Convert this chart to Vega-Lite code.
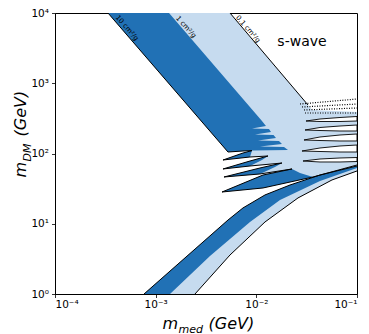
{
  "$schema": "https://vega.github.io/schema/vega-lite/v6.json",
  "width": 302,
  "height": 281,
  "autosize": "none",
  "padding": {"left": 55, "top": 13, "right": 12, "bottom": 40},
  "background": "white",
  "config": {
    "view": {"stroke": "black", "strokeWidth": 1},
    "axis": {"grid": false, "domainColor": "black", "tickColor": "black", "labelColor": "black", "labelFont": "DejaVu Sans", "labelFontSize": 10.5, "tickSize": 3.5, "tickWidth": 0.8, "titleFont": "DejaVu Sans", "titleFontStyle": "italic", "titleFontWeight": "normal", "titleColor": "black", "titleFontSize": 16}
  },
  "datasets": {
    "light": [
      {"p":"L1","i":0,"x":3.361e-4,"y":10000},{"p":"L1","i":1,"x":5.475e-3,"y":10000},{"p":"L1","i":2,"x":3.26e-2,"y":490.3},{"p":"L1","i":3,"x":3.572e-2,"y":416.1},{"p":"L1","i":4,"x":0.1,"y":389.7},{"p":"L1","i":5,"x":0.1,"y":68.6},{"p":"L1","i":6,"x":3.655e-2,"y":46.3},{"p":"L1","i":7,"x":1.165e-2,"y":32.3},{"p":"L1","i":8,"x":4.56e-3,"y":28.3},{"p":"L1","i":9,"x":1.165e-2,"y":49.4},{"p":"L1","i":10,"x":2.261e-2,"y":60.2},{"p":"L1","i":11,"x":1.087e-2,"y":51.1},{"p":"L1","i":12,"x":4.773e-3,"y":46.3},{"p":"L1","i":13,"x":1.087e-2,"y":62.2},{"p":"L1","i":14,"x":1.798e-2,"y":73.2},{"p":"L1","i":15,"x":8.65e-3,"y":66.4},{"p":"L1","i":16,"x":4.665e-3,"y":60.2},{"p":"L1","i":17,"x":8.65e-3,"y":78.2},{"p":"L1","i":18,"x":1.306e-2,"y":92.1},{"p":"L1","i":19,"x":8.65e-3,"y":89.2},{"p":"L1","i":20,"x":4.665e-3,"y":80.8},{"p":"L1","i":21,"x":7.37e-3,"y":101.6},{"p":"L1","i":22,"x":9.056e-3,"y":110.0},{"p":"L1","i":23,"x":7.37e-3,"y":108.5},{"p":"L1","i":24,"x":5.23e-3,"y":105.0},
      {"p":"L6","i":0,"x":7.66e-4,"y":1},{"p":"L6","i":1,"x":2.458e-3,"y":1},{"p":"L6","i":2,"x":5.475e-3,"y":3.59},{"p":"L6","i":3,"x":1.219e-2,"y":10.6},{"p":"L6","i":4,"x":2.593e-2,"y":23.3},{"p":"L6","i":5,"x":5.644e-2,"y":42.0},{"p":"L6","i":6,"x":0.1,"y":56.4},{"p":"L6","i":7,"x":0.1,"y":66.4},{"p":"L6","i":8,"x":4.29e-2,"y":49.4},{"p":"L6","i":9,"x":2.16e-2,"y":35.6},{"p":"L6","i":10,"x":1.219e-2,"y":25.7},{"p":"L6","i":11,"x":7.37e-3,"y":16.8},{"p":"L6","i":12,"x":5.23e-3,"y":11.3}
    ],
    "dark": [
      {"p":"D1","i":0,"x":3.361e-4,"y":10000},{"p":"D1","i":1,"x":1.357e-3,"y":10000},{"p":"D1","i":2,"x":1.138e-2,"y":290.1},{"p":"D1","i":3,"x":1.247e-2,"y":246.2},{"p":"D1","i":4,"x":9.056e-3,"y":226.9},{"p":"D1","i":5,"x":1.336e-2,"y":223.3},{"p":"D1","i":6,"x":1.398e-2,"y":202.3},{"p":"D1","i":7,"x":9.698e-3,"y":186.4},{"p":"D1","i":8,"x":1.481e-2,"y":183.3},{"p":"D1","i":9,"x":1.568e-2,"y":166.2},{"p":"D1","i":10,"x":1.039e-2,"y":153.1},{"p":"D1","i":11,"x":1.679e-2,"y":150.7},{"p":"D1","i":12,"x":1.798e-2,"y":136.5},{"p":"D1","i":13,"x":1.087e-2,"y":125.8},{"p":"D1","i":14,"x":1.883e-2,"y":123.7},{"p":"D1","i":15,"x":2.063e-2,"y":112.1},{"p":"D1","i":16,"x":9.056e-3,"y":110.0},{"p":"D1","i":17,"x":7.37e-3,"y":108.5},{"p":"D1","i":18,"x":5.23e-3,"y":105.0},
      {"p":"D2","i":0,"x":4.665e-3,"y":80.8},{"p":"D2","i":1,"x":7.37e-3,"y":101.6},{"p":"D2","i":2,"x":9.056e-3,"y":110.0},{"p":"D2","i":3,"x":8.65e-3,"y":89.2},
      {"p":"D3","i":0,"x":4.665e-3,"y":60.2},{"p":"D3","i":1,"x":8.65e-3,"y":78.2},{"p":"D3","i":2,"x":1.306e-2,"y":92.1},{"p":"D3","i":3,"x":1.138e-2,"y":80.8},{"p":"D3","i":4,"x":8.65e-3,"y":66.4},
      {"p":"D4","i":0,"x":4.773e-3,"y":46.3},{"p":"D4","i":1,"x":1.087e-2,"y":62.2},{"p":"D4","i":2,"x":1.798e-2,"y":73.2},{"p":"D4","i":3,"x":1.532e-2,"y":64.2},{"p":"D4","i":4,"x":1.087e-2,"y":51.1},
      {"p":"D5","i":0,"x":4.56e-3,"y":28.3},{"p":"D5","i":1,"x":1.165e-2,"y":49.4},{"p":"D5","i":2,"x":2.261e-2,"y":60.2},{"p":"D5","i":3,"x":2.715e-2,"y":52.8},{"p":"D5","i":4,"x":3.655e-2,"y":46.3},{"p":"D5","i":5,"x":1.165e-2,"y":32.3},
      {"p":"D6","i":0,"x":7.66e-4,"y":1},{"p":"D6","i":1,"x":1.388e-3,"y":1},{"p":"D6","i":2,"x":3.465e-3,"y":3.47},{"p":"D6","i":3,"x":8.65e-3,"y":10.6},{"p":"D6","i":4,"x":1.718e-2,"y":21.8},{"p":"D6","i":5,"x":4.29e-2,"y":40.6},{"p":"D6","i":6,"x":0.1,"y":62.2},{"p":"D6","i":7,"x":0.1,"y":66.4},{"p":"D6","i":8,"x":4.29e-2,"y":49.4},{"p":"D6","i":9,"x":2.16e-2,"y":35.6},{"p":"D6","i":10,"x":1.219e-2,"y":25.7},{"p":"D6","i":11,"x":7.37e-3,"y":16.8},{"p":"D6","i":12,"x":5.23e-3,"y":11.3}
    ],
    "gaps": [
      {"p":"W1","i":0,"x":3.114e-2,"y":290.1},{"p":"W1","i":1,"x":4.29e-2,"y":309.8},{"p":"W1","i":2,"x":6.776e-2,"y":325.5},{"p":"W1","i":3,"x":0.1,"y":336.3},{"p":"W1","i":4,"x":0.1,"y":290.1},{"p":"W1","i":5,"x":6.776e-2,"y":285.4},{"p":"W1","i":6,"x":4.29e-2,"y":285.4},{"p":"W1","i":7,"x":3.114e-2,"y":290.1},
      {"p":"W2","i":0,"x":3.044e-2,"y":216.0},{"p":"W2","i":1,"x":4.29e-2,"y":234.5},{"p":"W2","i":2,"x":6.776e-2,"y":246.2},{"p":"W2","i":3,"x":0.1,"y":254.5},{"p":"W2","i":4,"x":0.1,"y":209.0},{"p":"W2","i":5,"x":6.776e-2,"y":209.0},{"p":"W2","i":6,"x":4.29e-2,"y":212.5},{"p":"W2","i":7,"x":3.044e-2,"y":216.0},
      {"p":"W3","i":0,"x":2.975e-2,"y":155.7},{"p":"W3","i":1,"x":4.29e-2,"y":171.8},{"p":"W3","i":2,"x":6.776e-2,"y":183.3},{"p":"W3","i":3,"x":0.1,"y":189.5},{"p":"W3","i":4,"x":0.1,"y":150.7},{"p":"W3","i":5,"x":6.776e-2,"y":150.7},{"p":"W3","i":6,"x":4.29e-2,"y":153.1},{"p":"W3","i":7,"x":2.975e-2,"y":155.7},
      {"p":"W4","i":0,"x":2.842e-2,"y":108.5},{"p":"W4","i":1,"x":4.29e-2,"y":119.8},{"p":"W4","i":2,"x":6.776e-2,"y":127.9},{"p":"W4","i":3,"x":0.1,"y":132.1},{"p":"W4","i":4,"x":0.1,"y":105.0},{"p":"W4","i":5,"x":6.776e-2,"y":105.0},{"p":"W4","i":6,"x":4.29e-2,"y":106.8},{"p":"W4","i":7,"x":2.842e-2,"y":108.5},
      {"p":"W5","i":0,"x":2.907e-2,"y":78.2},{"p":"W5","i":1,"x":4.29e-2,"y":83.5},{"p":"W5","i":2,"x":6.776e-2,"y":86.3},{"p":"W5","i":3,"x":0.1,"y":87.7},{"p":"W5","i":4,"x":0.1,"y":76.9},{"p":"W5","i":5,"x":6.776e-2,"y":75.7},{"p":"W5","i":6,"x":4.29e-2,"y":75.7},{"p":"W5","i":7,"x":2.907e-2,"y":78.2}
    ],
    "edges": [
      {"p":"K1","i":0,"x":3.361e-4,"y":10000},{"p":"K1","i":1,"x":5.23e-3,"y":105.0},{"p":"K1","i":2,"x":7.37e-3,"y":108.5},{"p":"K1","i":3,"x":9.056e-3,"y":110.0},
      {"p":"K2","i":0,"x":5.475e-3,"y":10000},{"p":"K2","i":1,"x":3.26e-2,"y":490.3},
      {"p":"K3","i":0,"x":0.1,"y":68.6},{"p":"K3","i":1,"x":3.655e-2,"y":46.3},{"p":"K3","i":2,"x":1.165e-2,"y":32.3},{"p":"K3","i":3,"x":4.56e-3,"y":28.3},{"p":"K3","i":4,"x":1.165e-2,"y":49.4},{"p":"K3","i":5,"x":2.261e-2,"y":60.2},{"p":"K3","i":6,"x":1.087e-2,"y":51.1},{"p":"K3","i":7,"x":4.773e-3,"y":46.3},{"p":"K3","i":8,"x":1.087e-2,"y":62.2},{"p":"K3","i":9,"x":1.798e-2,"y":73.2},{"p":"K3","i":10,"x":8.65e-3,"y":66.4},{"p":"K3","i":11,"x":4.665e-3,"y":60.2},{"p":"K3","i":12,"x":8.65e-3,"y":78.2},{"p":"K3","i":13,"x":1.306e-2,"y":92.1},{"p":"K3","i":14,"x":8.65e-3,"y":89.2},{"p":"K3","i":15,"x":4.665e-3,"y":80.8},{"p":"K3","i":16,"x":7.37e-3,"y":101.6},{"p":"K3","i":17,"x":9.056e-3,"y":110.0},
      {"p":"K7","i":0,"x":7.66e-4,"y":1},{"p":"K7","i":1,"x":5.23e-3,"y":11.3},{"p":"K7","i":2,"x":7.37e-3,"y":16.8},{"p":"K7","i":3,"x":1.219e-2,"y":25.7},{"p":"K7","i":4,"x":2.16e-2,"y":35.6},{"p":"K7","i":5,"x":4.29e-2,"y":49.4},{"p":"K7","i":6,"x":0.1,"y":66.4},
      {"p":"K8","i":0,"x":2.458e-3,"y":1},{"p":"K8","i":1,"x":5.475e-3,"y":3.59},{"p":"K8","i":2,"x":1.219e-2,"y":10.6},{"p":"K8","i":3,"x":2.593e-2,"y":23.3},{"p":"K8","i":4,"x":5.644e-2,"y":42.0},{"p":"K8","i":5,"x":0.1,"y":56.4}
    ],
    "dots": [
      {"p":"Q1","i":0,"x":2.715e-2,"y":506.5},{"p":"Q1","i":1,"x":0.1,"y":596.7},
      {"p":"Q2","i":0,"x":2.842e-2,"y":459.1},{"p":"Q2","i":1,"x":0.1,"y":506.5},
      {"p":"Q3","i":0,"x":2.975e-2,"y":416.1},{"p":"Q3","i":1,"x":0.1,"y":444.3},
      {"p":"Q4","i":0,"x":3.044e-2,"y":377.1},{"p":"Q4","i":1,"x":0.1,"y":377.1}
    ],
    "contours": [
      {"t":"10 cm²/g","x":5.19e-4,"y":6115},
      {"t":"1 cm²/g","x":2.0e-3,"y":6320},
      {"t":"0.1 cm²/g","x":8.26e-3,"y":5918}
    ],
    "note": [
      {"t":"s-wave","x":2.842e-2,"y":3866}
    ]
  },
  "resolve": {"axis": {"x": "independent", "y": "independent"}},
  "layer": [
    {
      "data": {"name": "light"},
      "mark": {"type": "line", "filled": true, "color": "#c6dbef", "clip": true},
      "encoding": {
        "x": {"field": "x", "type": "quantitative", "scale": {"type": "log", "domain": [0.0001, 0.1], "nice": false},
              "axis": {"values": [0.0001, 0.001, 0.01, 0.1], "labelExpr": "datum.value < 0.0005 ? '10⁻⁴' : datum.value < 0.005 ? '10⁻³' : datum.value < 0.05 ? '10⁻²' : '10⁻¹'", "labelPadding": 2, "title": "m\u00a0\u00a0\u00a0\u00a0\u00a0\u00a0(GeV)", "titleAlign": "left", "titleBaseline": "alphabetic", "titleX": 107, "titleY": 34, "titleAngle": 0}},
        "y": {"field": "y", "type": "quantitative", "scale": {"type": "log", "domain": [1, 10000], "nice": false},
              "axis": {"values": [1, 10, 100, 1000, 10000], "labelExpr": "datum.value < 5 ? '10⁰' : datum.value < 50 ? '10¹' : datum.value < 500 ? '10²' : datum.value < 5000 ? '10³' : '10⁴'", "labelPadding": 3, "title": "m\u00a0\u00a0\u00a0\u00a0\u00a0(GeV)", "titleAlign": "left", "titleBaseline": "alphabetic", "titleX": -30, "titleY": 164, "titleAngle": 270}},
        "detail": {"field": "p"},
        "order": {"field": "i", "type": "quantitative"}
      }
    },
    {
      "data": {"name": "dark"},
      "mark": {"type": "line", "filled": true, "color": "#2171b5", "clip": true},
      "encoding": {
        "x": {"field": "x", "type": "quantitative", "scale": {"type": "log", "domain": [0.0001, 0.1], "nice": false},
              "axis": {"orient": "top", "domain": false, "ticks": false, "labels": false, "title": "med", "titleFontSize": 11, "titleAlign": "left", "titleBaseline": "alphabetic", "titleX": 123, "titleY": 319, "titleAngle": 0}},
        "y": {"field": "y", "type": "quantitative", "scale": {"type": "log", "domain": [1, 10000], "nice": false},
              "axis": {"orient": "right", "domain": false, "ticks": false, "labels": false, "title": "DM", "titleFontSize": 11, "titleAlign": "left", "titleBaseline": "alphabetic", "titleX": -327, "titleY": 148, "titleAngle": 270}},
        "detail": {"field": "p"},
        "order": {"field": "i", "type": "quantitative"}
      }
    },
    {
      "data": {"name": "gaps"},
      "mark": {"type": "line", "fill": "white", "stroke": "black", "strokeWidth": 0.9, "strokeJoin": "round", "clip": true},
      "encoding": {
        "x": {"field": "x", "type": "quantitative", "scale": {"type": "log", "domain": [0.0001, 0.1], "nice": false}, "axis": null},
        "y": {"field": "y", "type": "quantitative", "scale": {"type": "log", "domain": [1, 10000], "nice": false}, "axis": null},
        "detail": {"field": "p"},
        "order": {"field": "i", "type": "quantitative"}
      }
    },
    {
      "data": {"name": "edges"},
      "mark": {"type": "line", "color": "black", "strokeWidth": 1, "strokeJoin": "round", "clip": true},
      "encoding": {
        "x": {"field": "x", "type": "quantitative", "scale": {"type": "log", "domain": [0.0001, 0.1], "nice": false}, "axis": null},
        "y": {"field": "y", "type": "quantitative", "scale": {"type": "log", "domain": [1, 10000], "nice": false}, "axis": null},
        "detail": {"field": "p"},
        "order": {"field": "i", "type": "quantitative"}
      }
    },
    {
      "data": {"name": "dots"},
      "mark": {"type": "line", "color": "black", "strokeWidth": 1.2, "strokeDash": [1, 1.5], "clip": true},
      "encoding": {
        "x": {"field": "x", "type": "quantitative", "scale": {"type": "log", "domain": [0.0001, 0.1], "nice": false}, "axis": null},
        "y": {"field": "y", "type": "quantitative", "scale": {"type": "log", "domain": [1, 10000], "nice": false}, "axis": null},
        "detail": {"field": "p"},
        "order": {"field": "i", "type": "quantitative"}
      }
    },
    {
      "data": {"name": "contours"},
      "mark": {"type": "text", "angle": 49, "fontSize": 7, "font": "DejaVu Sans", "color": "black", "align": "center", "baseline": "middle"},
      "encoding": {
        "x": {"field": "x", "type": "quantitative", "scale": {"type": "log", "domain": [0.0001, 0.1], "nice": false}, "axis": null},
        "y": {"field": "y", "type": "quantitative", "scale": {"type": "log", "domain": [1, 10000], "nice": false}, "axis": null},
        "text": {"field": "t"}
      }
    },
    {
      "data": {"name": "note"},
      "mark": {"type": "text", "fontSize": 14, "font": "DejaVu Sans", "color": "black", "align": "center", "baseline": "middle"},
      "encoding": {
        "x": {"field": "x", "type": "quantitative", "scale": {"type": "log", "domain": [0.0001, 0.1], "nice": false}, "axis": null},
        "y": {"field": "y", "type": "quantitative", "scale": {"type": "log", "domain": [1, 10000], "nice": false}, "axis": null},
        "text": {"field": "t"}
      }
    }
  ]
}
